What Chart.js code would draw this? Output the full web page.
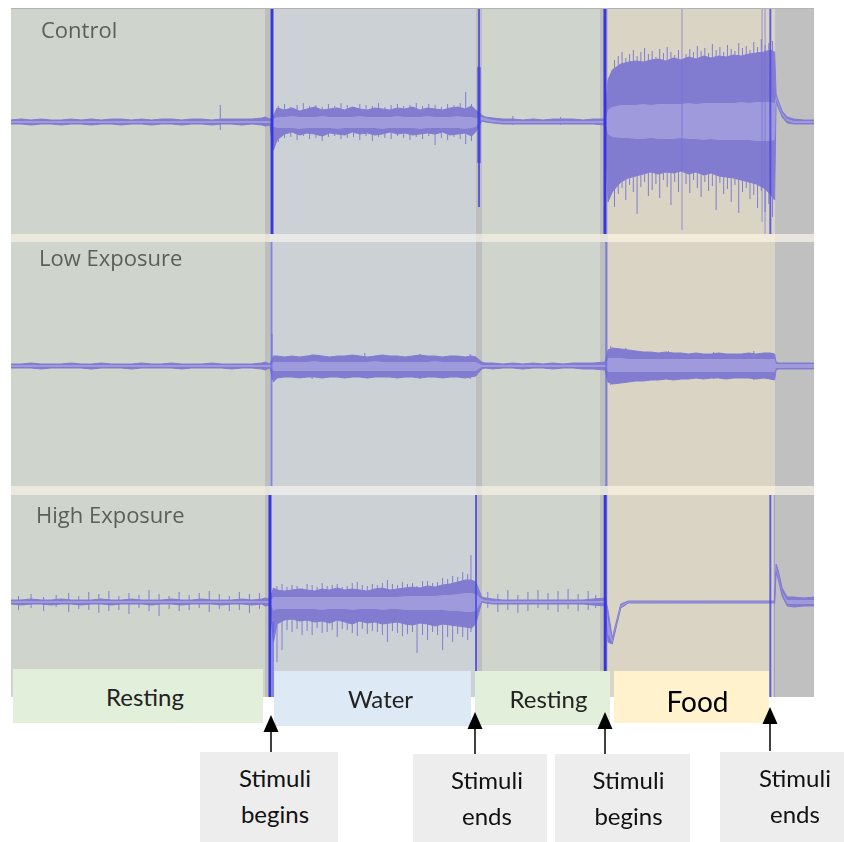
<!DOCTYPE html>
<html>
<head>
<meta charset="utf-8">
<script src="https://cdn.jsdelivr.net/npm/chart.js@4/dist/chart.umd.min.js"></script>
<style>
  html, body { margin: 0; padding: 0; background: #fff; }
  #fig { position: relative; width: 844px; height: 842px; overflow: hidden; font-family: Lato, "Open Sans", sans-serif; }
  #fig canvas { position: absolute; left: 11px; }
  .group { position: absolute; font-family: "Open Sans", sans-serif; font-size: 22px; line-height: 22px; color: #5a5f5a; white-space: nowrap; }
  .phase { position: absolute; display: flex; align-items: center; justify-content: center; font-size: 24px; color: #222; box-sizing: border-box; }
  .note { position: absolute; top: 752px; height: 90px; background: #ededed; text-align: center; font-size: 24px; line-height: 36px; color: #111; padding-top: 8px; box-sizing: border-box; }
  svg.arrows { position: absolute; left: 0; top: 0; }
</style>
</head>
<body>
<div id="fig">
  <canvas id="ctl" width="803" height="234" style="top:8px"></canvas>
  <canvas id="low" width="803" height="253" style="top:242px"></canvas>
  <canvas id="high" width="803" height="202" style="top:495px"></canvas>

  <div class="group" style="left:41px;top:18px">Control</div>
  <div class="group" style="left:39px;top:246px">Low Exposure</div>
  <div class="group" style="left:36px;top:503px">High Exposure</div>

  <div class="phase" style="left:13px;top:669px;width:250px;height:54px;background:#e2efda;padding-left:14px">Resting</div>
  <div class="phase" style="left:274px;top:671px;width:197px;height:55px;background:#dde9f5;padding-left:16px">Water</div>
  <div class="phase" style="left:475px;top:671px;width:135px;height:54px;background:#e2efda;padding-left:12px">Resting</div>
  <div class="phase" style="left:614px;top:671px;width:155px;height:52px;background:#fff2cc;font-size:28px;color:#000;padding-top:8px;padding-left:12px">Food</div>

  <svg class="arrows" width="844" height="842">
    <g stroke="#000" stroke-width="1.5" fill="#000">
      <line x1="271" y1="728" x2="271" y2="752"/><polygon stroke="none" points="271,715 263.5,732 278.5,732"/>
      <line x1="475" y1="725" x2="475" y2="754"/><polygon stroke="none" points="475,712 467.5,729 482.5,729"/>
      <line x1="605" y1="725" x2="605" y2="754"/><polygon stroke="none" points="605,712 597.5,729 612.5,729"/>
      <line x1="770" y1="720" x2="770" y2="751"/><polygon stroke="none" points="770,707 762.5,724 777.5,724"/>
    </g>
  </svg>

  <div class="note" style="left:200px;width:138px;padding-left:12px">Stimuli<br>begins</div>
  <div class="note" style="left:413px;width:134px;top:754px;padding-left:14px">Stimuli<br>ends</div>
  <div class="note" style="left:555px;width:135px;top:754px;padding-left:12px">Stimuli<br>begins</div>
  <div class="note" style="left:720px;width:124px;padding-left:26px">Stimuli<br>ends</div>
</div>

<script>
// ---- Recording timeline (seconds) ----
// Phases of the session: resting, water stimulus, resting, food stimulus, after
const phaseKind  = ['rest', 'gap', 'water', 'gap', 'rest', 'gap', 'food', 'after'];
const phaseStart = [0, 101.2, 103.4, 185.3, 187.7, 234.8, 237.9, 304.5];
const phaseEnd   = [101.2, 103.4, 185.3, 187.7, 234.8, 237.9, 304.5, 320];

// Envelope sample times (s): resting | water | resting | food | after
const sampleTimes = [
  0,4,8,12,16,20,24,28,32,36,40,44,48,52,56,60,64,68,72,76,80,84,88,92,96,100,101.2,103.2,
  104.6,106,109,112,115,118,121,124,127,130,133,136,139,142,145,148,151,154,157,160,163,166,169,172,175,178,181,183.5,185.2,
  187.6,189,192,196,200,204,208,212,216,220,224,228,232,236.8,
  237.9,239.6,243,246,249,252,255,258,261,264,267,270,273,276,279,282,285,288,291,294,297,300,302.5,304.3,
  304.9,305.8,307.3,309.3,312,316,320
];

// ---- Control (µV) ----
const controlPeakHi = [
  2,3,2,3,2,2,3,2,3,2,3,3,2,3,2,3,3,2,3,3,2,3,3,3,3,4,5,3,
  6,14,12,14,11,13,15,12,13,14,12,15,13,12,14,13,12,14,13,15,12,14,13,12,14,15,13,16,12,
  7,5,4,3,3,2,3,2,3,3,3,2,3,3,
  42,52,58,60,61,60,62,63,61,64,62,65,63,66,64,66,65,67,66,68,69,70,72,70,
  28,21,11,5,3,2,2
];
const controlPeakLo = [
  -2,-2,-3,-2,-2,-3,-2,-2,-3,-2,-2,-3,-2,-2,-3,-2,-2,-3,-2,-2,-3,-2,-2,-3,-2,-3,-4,-3,
  -28,-18,-12,-10,-13,-11,-12,-14,-11,-12,-13,-10,-12,-11,-13,-12,-10,-12,-11,-13,-12,-11,-12,-10,-13,-12,-11,-14,-10,
  1,0,-1,-2,-2,-2,-2,-2,-2,-2,-2,-2,-2,-3,
  -80,-70,-60,-56,-54,-52,-50,-52,-50,-51,-49,-52,-50,-53,-51,-54,-55,-56,-58,-60,-62,-66,-72,-78,
  21,14,5,-1,-2,-2,-2
];
const controlRmsHi = [
  1,1,1,1,1,1,1,1,1,1,1,1,1,1,1,1,1,1,1,1,1,1,1,1,1,1,1,1,
  3,5,5,6,5,5,5,6,5,5,5,5,6,5,5,5,5,6,5,5,5,6,5,5,5,6,5,5,4,
  5,4,2,1,1,1,1,1,1,1,1,1,1,1,
  12,15,17,17,17,18,17,18,18,18,18,19,18,19,19,19,19,19,20,19,20,20,20,19,
  26,19,9,3,1,1,1
];
const controlRmsLo = [
  -1,-1,-1,-1,-1,-1,-1,-1,-1,-1,-1,-1,-1,-1,-1,-1,-1,-1,-1,-1,-1,-1,-1,-1,-1,-1,-1,-1,
  -5,-6,-6,-6,-7,-6,-6,-6,-6,-7,-6,-6,-6,-6,-6,-7,-6,-6,-6,-6,-7,-6,-6,-6,-6,-6,-7,-6,-5,
  2,1,0,-1,-1,-1,-1,-1,-1,-1,-1,-1,-1,-1,
  -12,-15,-16,-16,-17,-17,-16,-17,-17,-17,-16,-17,-17,-18,-17,-18,-18,-18,-18,-18,-19,-19,-19,-18,
  23,16,7,1,-1,-1,-1
];
const controlSpikeT = [
  83.4,
  106.5,109,111.5,114,116.5,119,121.5,124,126.5,129,131.5,134,136.5,139,141.5,144,146.5,149,151.5,154,
  156.5,159,161.5,164,166.5,169,171.5,174,176.5,179,181.2,183.5,
  200,219,
  240.5,242,243.5,245,246.5,248,249.5,251,252.5,254,255.5,257,258.5,260,261.5,263,264.5,266,
  269,270.5,272,273.5,275,276.5,278,279.5,281,282.5,284,285.5,287,288.5,290,291.5,293,294.5,296,297.5,299,300.5,302,303.5
];
const controlSpikeHi = [
  17,
  16,18,15,17,19,16,17,15,18,16,19,17,15,18,17,16,19,15,17,18,
  16,17,19,16,18,17,15,18,17,19,30,18,
  6,5,
  62,66,70,64,68,72,66,70,74,68,71,65,73,69,75,70,67,72,
  68,73,70,76,71,74,69,78,72,75,70,77,73,71,79,74,76,72,80,75,83,77,79,81
];
const controlSpikeLo = [
  -8,
  -20,-16,-15,-18,-14,-17,-16,-19,-15,-14,-17,-16,-15,-18,-14,-19,-15,-16,-17,-14,
  -16,-18,-15,-17,-14,-23,-16,-18,-15,-17,-22,-19,
  -3,-3,
  -85,-72,-66,-78,-63,-70,-92,-65,-60,-74,-68,-62,-76,-58,-65,-83,-60,-70,
  -62,-71,-58,-66,-75,-60,-69,-64,-88,-61,-72,-67,-80,-63,-91,-70,-66,-77,-73,-86,-69,-90,-82,-95
];
const controlMarkerT  = [104.0, 186.5, 186.5, 236.7, 267.4, 299.3, 300.5, 302.6];
const controlMarkerLo = [-112, -85, -41, -112, -108, -100, -112, -112];
const controlMarkerHi = [113, 113, 55, 113, 113, 113, 113, 113];
const controlMarkerLook = ['strong', 'mid', 'strong', 'strong', 'faint', 'faint', 'faint', 'mid'];

// ---- Low exposure (µV) ----
const lowPeakHi = [
  2,2,3,2,2,2,3,2,2,3,2,2,2,3,2,2,3,2,2,2,3,2,2,2,2,3,4,2,
  10,10,9,10,9,10,11,10,9,10,10,11,10,9,10,11,10,10,9,10,11,10,10,9,10,10,9,10,9,
  4,3,3,2,3,2,3,2,3,2,3,3,3,4,
  16,18,17,16,15,14,14,13,14,13,13,12,13,12,12,13,12,12,12,13,12,13,13,12,
  4,3,3,3,3,3,3
];
const lowPeakLo = [
  -2,-2,-2,-3,-2,-2,-2,-2,-3,-2,-2,-2,-3,-2,-2,-2,-2,-3,-2,-2,-2,-2,-3,-2,-2,-3,-4,-2,
  -16,-12,-11,-11,-12,-11,-11,-12,-11,-11,-12,-11,-11,-12,-11,-11,-11,-12,-11,-11,-12,-11,-11,-12,-11,-11,-12,-11,-10,
  -3,-2,-3,-2,-2,-3,-2,-2,-3,-2,-2,-3,-3,-4,
  -16,-18,-17,-16,-15,-15,-14,-14,-13,-14,-13,-13,-12,-13,-12,-12,-13,-12,-12,-12,-13,-12,-13,-14,
  -4,-3,-3,-3,-3,-3,-3
];
const lowRmsHi = [
  1,1,1,1,1,1,1,1,1,1,1,1,1,1,1,1,1,1,1,1,1,1,1,1,1,1,1,1,
  4,4,4,4,4,4,5,4,4,4,4,4,4,4,5,4,4,4,4,4,4,4,5,4,4,4,4,4,4,
  1,1,1,1,1,1,1,1,1,1,1,1,1,1,
  8,8,8,7,7,7,7,7,7,7,7,7,7,7,7,7,7,7,7,7,7,7,7,7,
  2,2,2,2,2,2,2
];
const lowRmsLo = [
  -1,-1,-1,-1,-1,-1,-1,-1,-1,-1,-1,-1,-1,-1,-1,-1,-1,-1,-1,-1,-1,-1,-1,-1,-1,-1,-1,-1,
  -5,-5,-5,-5,-5,-5,-5,-5,-5,-5,-5,-5,-5,-5,-5,-5,-5,-5,-5,-5,-5,-5,-5,-5,-5,-5,-5,-5,-5,
  -1,-1,-1,-1,-1,-1,-1,-1,-1,-1,-1,-1,-1,-1,
  -6,-6,-6,-6,-6,-6,-6,-6,-6,-6,-6,-6,-6,-6,-6,-6,-6,-6,-6,-6,-6,-6,-6,-6,
  -2,-2,-2,-2,-2,-2,-2
];
const lowSpikeT  = [104.0, 120, 141, 163, 183, 239, 245, 262, 280, 296];
const lowSpikeHi = [32, 12, 13, 12, 12, 20, 18, 15, 14, 15];
const lowSpikeLo = [-14, -13, -12, -13, -13, -19, -17, -14, -13, -14];
const lowMarkerT  = [103.8, 237.2];
const lowMarkerLo = [-120, -120];
const lowMarkerHi = [124, 124];
const lowMarkerLook = ['soft', 'soft'];

// ---- High exposure (µV) ----
const highPeakHi = [
  2,2,3,2,2,3,2,2,2,3,2,2,3,2,2,2,3,2,2,3,2,2,2,3,2,3,4,3,
  14,12,11,12,13,12,11,13,12,14,12,13,12,11,13,14,12,13,14,15,14,16,15,17,18,20,22,22,20,
  5,4,3,2,2,2,2,2,2,2,2,2,3,4,
  -8,-36,-2,1,1,1,1,1,1,1,1,1,1,1,1,1,1,1,1,1,1,1,1,1,
  38,31,14,5,5,4,5
];
const highPeakLo = [
  -2,-3,-2,-2,-3,-2,-2,-3,-2,-2,-3,-2,-2,-2,-3,-2,-2,-3,-2,-2,-2,-3,-2,-2,-3,-2,-4,-3,
  -40,-22,-18,-17,-19,-18,-20,-19,-21,-18,-20,-22,-19,-21,-20,-22,-21,-20,-22,-23,-21,-22,-24,-22,-23,-24,-25,-26,-22,
  0,-1,-2,-2,-2,-2,-2,-2,-2,-2,-2,-2,-3,-4,
  -40,-42,-6,-1,-1,-1,-1,-1,-1,-1,-1,-1,-1,-1,-1,-1,-1,-1,-1,-1,-1,-1,-1,-1,
  30,22,6,-4,-5,-4,-4
];
const highRmsHi = [
  1,1,1,1,1,1,1,1,1,1,1,1,1,1,1,1,1,1,1,1,1,1,1,1,1,1,1,1,
  5,5,5,5,5,5,5,5,5,5,5,5,5,5,5,5,5,5,6,6,6,6,6,7,7,8,9,9,8,
  3,2,1,1,1,1,1,1,1,1,1,1,1,1,
  -18,-38,-3,0.5,0.5,0.5,0.5,0.5,0.5,0.5,0.5,0.5,0.5,0.5,0.5,0.5,0.5,0.5,0.5,0.5,0.5,0.5,0.5,0.5,
  35,27,10,2,2,2,2
];
const highRmsLo = [
  -1,-1,-1,-1,-1,-1,-1,-1,-1,-1,-1,-1,-1,-1,-1,-1,-1,-1,-1,-1,-1,-1,-1,-1,-1,-1,-1,-1,
  -9,-7,-7,-7,-7,-7,-7,-8,-7,-7,-7,-8,-7,-7,-7,-8,-7,-7,-8,-8,-8,-8,-8,-8,-9,-9,-10,-10,-9,
  1,0,-1,-1,-1,-1,-1,-1,-1,-1,-1,-1,-1,-1,
  -32,-40,-5,-0.5,-0.5,-0.5,-0.5,-0.5,-0.5,-0.5,-0.5,-0.5,-0.5,-0.5,-0.5,-0.5,-0.5,-0.5,-0.5,-0.5,-0.5,-0.5,-0.5,-0.5,
  33,25,9,-2,-2,-2,-2
];
const highSpikeT = [
  3,8,13,18,23,27,31,35,39,43,47,51,55,59,63,67,71,75,79,83,87,91,95,99,
  106,108,110,112,114,116,118,120,122,124,126,128,130,132,134,136,138,140,142,144,
  146,148,150,152,154,156,158,160,161.8,164,166,168,170,172,174,176,178,180,182,183.3,
  190,194,198,202,206,210,214,218,222,226,230,233
];
const highSpikeHi = [
  6,8,5,7,9,6,10,8,11,6,9,7,12,8,6,10,7,9,11,8,6,10,8,9,
  16,18,15,17,16,14,18,17,15,19,16,17,18,15,16,19,20,17,16,18,
  17,19,22,18,17,20,18,19,16,21,21,19,20,24,23,26,25,30,28,47,
  10,8,12,7,10,12,9,11,13,8,11,7
];
const highSpikeLo = [
  -8,-6,-9,-5,-10,-7,-8,-11,-9,-8,-12,-6,-9,-14,-7,-9,-8,-6,-10,-7,-9,-8,-11,-7,
  -60,-48,-28,-30,-27,-33,-29,-33,-26,-31,-30,-28,-35,-27,-28,-31,-34,-27,-32,-29,
  -30,-33,-40,-29,-31,-34,-32,-30,-51,-33,-38,-30,-33,-48,-35,-40,-32,-35,-38,-30,
  -6,-10,-8,-11,-9,-6,-8,-10,-7,-9,-8,-6
];
const highMarkerT  = [103.2, 104.4, 185.3, 236.8, 302.6, 304.2];
const highMarkerLo = [-95, -95, -95, -95, -95, -95];
const highMarkerHi = [107, -20, 107, 107, 107, 107];
const highMarkerLook = ['strong', 'soft', 'mid', 'strong', 'mid', 'faint'];

// ---- Styling ----
const PEAK = '#827cd0';   // peak envelope
const RMS = '#9e9adc';    // RMS band, lighter
const MARKER_LOOK = {
  strong: { color: 'rgb(55,55,225)', width: 3 },
  mid:    { color: 'rgba(75,75,225,0.85)', width: 2 },
  soft:   { color: 'rgba(100,100,225,0.7)', width: 2 },
  faint:  { color: 'rgba(115,105,220,0.55)', width: 1.2 }
};
const PHASE_STYLE = {
  rest:  { panel: '#cfd4cc', sep: '#ebe9dd' },
  gap:   { panel: '#bebebe', sep: '#e3e2dc' },
  water: { panel: '#ccd1d6', sep: '#e8e8e6' },
  food:  { panel: '#dad4c4', sep: '#f3ebd9' },
  after: { panel: '#c0c0c0', sep: '#e7e5dd' }
};

// Shades each phase of the session behind the traces
const phaseShading = {
  id: 'phaseShading',
  beforeDraw(chart, args, opts) {
    const { ctx, chartArea, scales } = chart;
    const x = scales.x;
    ctx.save();
    phaseKind.forEach((kind, i) => {
      const x0 = Math.round(x.getPixelForValue(phaseStart[i]));
      const x1 = Math.round(x.getPixelForValue(phaseEnd[i]));
      ctx.fillStyle = PHASE_STYLE[kind].sep;
      ctx.fillRect(x0, 0, x1 - x0, chart.height);
      ctx.fillStyle = PHASE_STYLE[kind].panel;
      ctx.fillRect(x0, chartArea.top, x1 - x0, chartArea.bottom - chartArea.top);
    });
    if (opts.topRule) {
      ctx.fillStyle = '#b3b3b3';
      ctx.fillRect(0, 0, chart.width, 1);
    }
    ctx.restore();
  }
};

function onTimeline(values) {
  return sampleTimes.map((t, i) => ({ x: t, y: values[i] }));
}

function buildPanel(canvasId, s, yMin, yMax, padding, topRule) {
  const datasets = [];
  // stimulus / artefact lines (top layer)
  s.markerT.forEach((t, i) => {
    const look = MARKER_LOOK[s.markerLook[i]];
    datasets.push({
      data: [{ x: t, y: s.markerLo[i] }, { x: t, y: s.markerHi[i] }],
      borderColor: look.color, borderWidth: look.width, fill: false, order: 1
    });
  });
  // RMS band
  datasets.push({ data: onTimeline(s.rmsHi), borderColor: 'transparent', backgroundColor: RMS, borderWidth: 1, fill: '+1', order: 2 });
  datasets.push({ data: onTimeline(s.rmsLo), borderColor: 'transparent', borderWidth: 1, fill: false, order: 2 });
  // peak envelope
  datasets.push({ data: onTimeline(s.peakHi), borderColor: PEAK, backgroundColor: PEAK, borderWidth: 1, fill: '+1', order: 3 });
  datasets.push({ data: onTimeline(s.peakLo), borderColor: PEAK, borderWidth: 1, fill: false, order: 3 });
  // isolated spikes, beneath the envelope so only their tips show
  const spikes = [];
  s.spikeT.forEach((t, i) => {
    spikes.push({ x: t, y: s.spikeLo[i] }, { x: t, y: s.spikeHi[i] }, { x: t, y: null });
  });
  datasets.push({ data: spikes, borderColor: PEAK, borderWidth: 1, fill: false, spanGaps: false, order: 4 });

  return new Chart(document.getElementById(canvasId), {
    type: 'line',
    data: { datasets },
    options: {
      responsive: false,
      animation: false,
      devicePixelRatio: 1,
      events: [],
      layout: { padding },
      elements: { point: { radius: 0 }, line: { tension: 0 } },
      scales: {
        x: { type: 'linear', min: 0, max: 320, display: false },
        y: { type: 'linear', min: yMin, max: yMax, display: false }
      },
      plugins: {
        legend: { display: false },
        tooltip: { enabled: false },
        phaseShading: { topRule }
      }
    },
    plugins: [phaseShading]
  });
}

buildPanel('ctl', {
  peakHi: controlPeakHi, peakLo: controlPeakLo, rmsHi: controlRmsHi, rmsLo: controlRmsLo,
  spikeT: controlSpikeT, spikeHi: controlSpikeHi, spikeLo: controlSpikeLo,
  markerT: controlMarkerT, markerLo: controlMarkerLo, markerHi: controlMarkerHi, markerLook: controlMarkerLook
}, -112, 113, { top: 1, bottom: 8, left: 0, right: 0 }, true);

buildPanel('low', {
  peakHi: lowPeakHi, peakLo: lowPeakLo, rmsHi: lowRmsHi, rmsLo: lowRmsLo,
  spikeT: lowSpikeT, spikeHi: lowSpikeHi, spikeLo: lowSpikeLo,
  markerT: lowMarkerT, markerLo: lowMarkerLo, markerHi: lowMarkerHi, markerLook: lowMarkerLook
}, -120, 124, { top: 0, bottom: 9, left: 0, right: 0 }, false);

buildPanel('high', {
  peakHi: highPeakHi, peakLo: highPeakLo, rmsHi: highRmsHi, rmsLo: highRmsLo,
  spikeT: highSpikeT, spikeHi: highSpikeHi, spikeLo: highSpikeLo,
  markerT: highMarkerT, markerLo: highMarkerLo, markerHi: highMarkerHi, markerLook: highMarkerLook
}, -95, 107, { top: 0, bottom: 0, left: 0, right: 0 }, false);
</script>
</body>
</html>
